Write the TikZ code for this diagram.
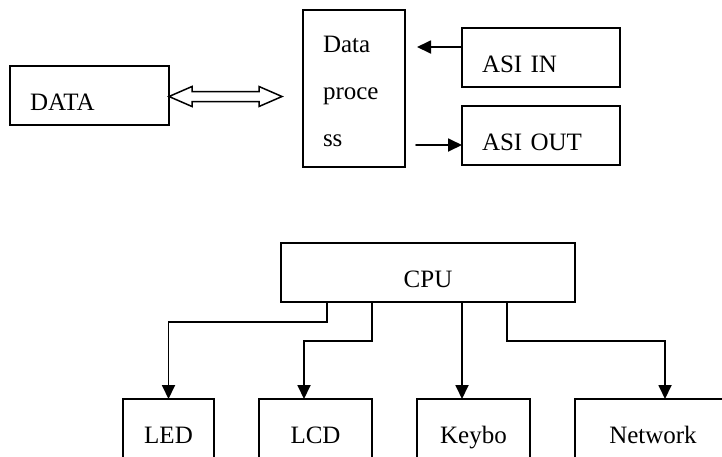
\documentclass[tikz,border=0pt]{standalone}
\usepackage{fontspec}
\setmainfont{Liberation Serif}
\usetikzlibrary{arrows.meta}

\begin{document}
\begin{tikzpicture}[x=1pt,y=-1pt,>={Triangle[length=14pt,width=13pt]},font=\fontsize{25pt}{30pt}\selectfont,line cap=round,
  box/.style={draw,line width=1.8pt,outer sep=0pt,inner xsep=20pt,inner ysep=0pt},
  unit/.style={box,minimum height=59pt,text height=29pt,text depth=0pt},
  link/.style={->,line width=1.8pt}]
\useasboundingbox (0,0) rectangle (722,456);
% upper part
\node[unit,anchor=north west,text width=119pt,align=left] (data) at (10,66) {DATA};
\node[box,anchor=north west,minimum width=102pt,minimum height=157pt,text width=62pt,align=left,font=\fontsize{25pt}{47pt}\selectfont] (proc) at (303,10) {\rule{0pt}{23pt}Data\\proce\\ss};
\node[unit,anchor=north west,text width=118pt,align=left] (asiin) at (462,28) {ASI IN};
\node[unit,anchor=north west,text width=118pt,align=left] (asiout) at (462,106) {ASI OUT};
\draw[line width=1.5pt,line join=miter] ([yshift=-1pt]data.east) -- ++(23,-10) -- ++(0,5) -- ++(67,0) -- ++(0,-5) -- ++(23,10) -- ++(-23,10) -- ++(0,-5) -- ++(-67,0) -- ++(0,5) -- cycle;
\coordinate (inend) at (417,47);
\draw[link] (inend -| asiin.west) -- (inend);
\coordinate (outstart) at (416,145);
\draw[link] (outstart) -- (outstart -| asiout.west);
% lower part
\node[unit,anchor=north west,minimum width=294pt] (cpu) at (281,243) {CPU};
\node[unit,anchor=north west,minimum width=91pt] (led) at (123,399) {LED};
\node[unit,anchor=north west,minimum width=113pt] (lcd) at (259,399) {LCD};
\node[unit,anchor=north west,minimum width=113pt] (keybo) at (417,399) {Keybo};
\node[unit,anchor=north west,minimum width=156pt] (net) at (575,399) {Network};
\coordinate (kbin) at ([xshift=-11.5pt]keybo.north);
\draw[link] ([xshift=46pt]cpu.south west) -- ++(0,20) -| (led.north);
\draw[link] ([xshift=91pt]cpu.south west) -- ++(0,39) -| ([xshift=-11.5pt]lcd.north);
\draw[link] (cpu.south -| kbin) -- (kbin);
\draw[link] ([xshift=226pt]cpu.south west) -- ++(0,39) -| ([xshift=12pt]net.north);
\end{tikzpicture}
\end{document}
